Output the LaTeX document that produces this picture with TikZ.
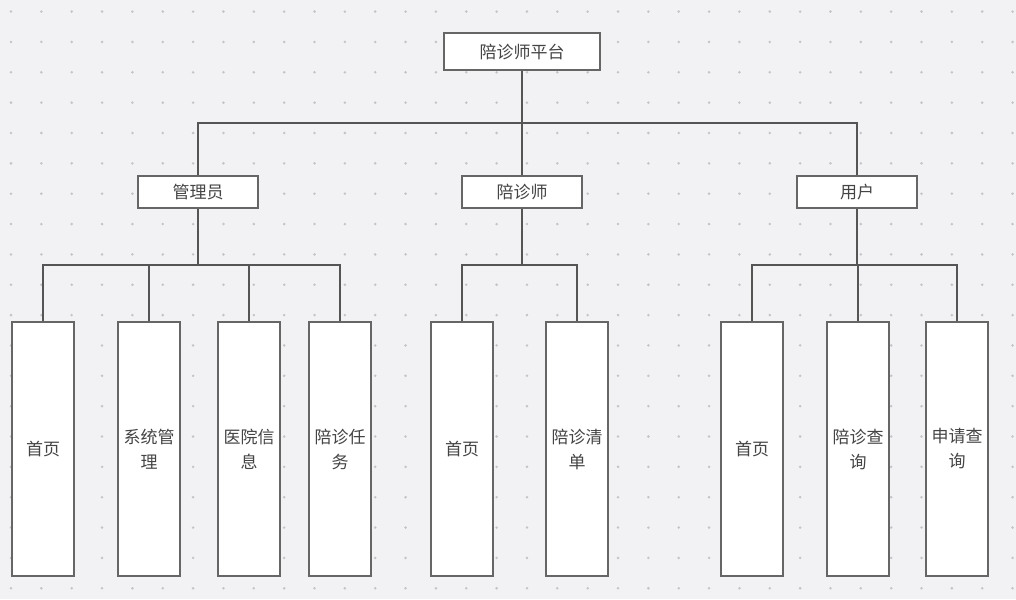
\documentclass[tikz,border=0pt]{standalone}
\usepackage{fontspec}
\setmainfont{Noto Sans CJK SC}
\definecolor{bg}{HTML}{F2F2F4}
\definecolor{dotc}{HTML}{C4C4C8}
\definecolor{edgec}{HTML}{555555}
\definecolor{boxc}{HTML}{666666}
\definecolor{txt}{HTML}{444444}
\begin{document}
\begin{tikzpicture}[x=1pt,y=-1pt,
  box/.style={draw=boxc,line width=1.3pt,fill=white,text=txt,inner sep=0pt,
    font=\fontsize{17}{25}\selectfont,align=center},
  top/.style={box,minimum width=156pt,minimum height=37pt},
  mid/.style={box,minimum width=120pt,minimum height=32pt},
  leaf/.style={box,minimum width=62pt,minimum height=254pt},
  conn/.style={draw=edgec,line width=1.3pt}]
\fill[bg] (0,0) rectangle (1016,599);
\useasboundingbox (0,0) rectangle (1016,599);
\foreach \i in {0,...,33}{\foreach \j in {0,...,19}{
  \fill[dotc] ({11+30.35*\i},{11.6+30.35*\j}) circle (1.4pt);}}
% nodes
\node[top] (root) at (522,51.5) {陪诊师平台};
\node[mid] (admin) at (198,192) {管理员};
\node[mid] (esc) at (522,192) {陪诊师};
\node[mid] (user) at (857,192) {用户};
\node[leaf] (a1) at (43,449) {首页};
\node[leaf] (a2) at (149,449) {系统管\\理};
\node[leaf] (a3) at (249,449) {医院信\\息};
\node[leaf] (a4) at (340,449) {陪诊任\\务};
\node[leaf] (e1) at (462,449) {首页};
\node[leaf] (e2) at (577,449) {陪诊清\\单};
\node[leaf] (u1) at (752,449) {首页};
\node[leaf] (u2) at (858,449) {陪诊查\\询};
\node[leaf] (u3) at (957,449) {申请查\\询};
% junctions
\coordinate (jt) at (522,123);
\coordinate (ja) at (198,265);
\coordinate (je) at (522,265);
\coordinate (ju) at (857,265);
% connectors
\draw[conn] (root.south) -- (jt);
\draw[conn] (jt) -| (admin.north);
\draw[conn] (jt) -- (esc.north);
\draw[conn] (jt) -| (user.north);
\draw[conn] (admin.south) -- (ja);
\draw[conn] (ja) -| (a1.north);
\draw[conn] (ja) -| (a2.north);
\draw[conn] (ja) -| (a3.north);
\draw[conn] (ja) -| (a4.north);
\draw[conn] (esc.south) -- (je);
\draw[conn] (je) -| (e1.north);
\draw[conn] (je) -| (e2.north);
\draw[conn] (user.south) -- (ju);
\draw[conn] (ju) -| (u1.north);
\draw[conn] (ju) -| (u2.north);
\draw[conn] (ju) -| (u3.north);
\end{tikzpicture}
\end{document}
